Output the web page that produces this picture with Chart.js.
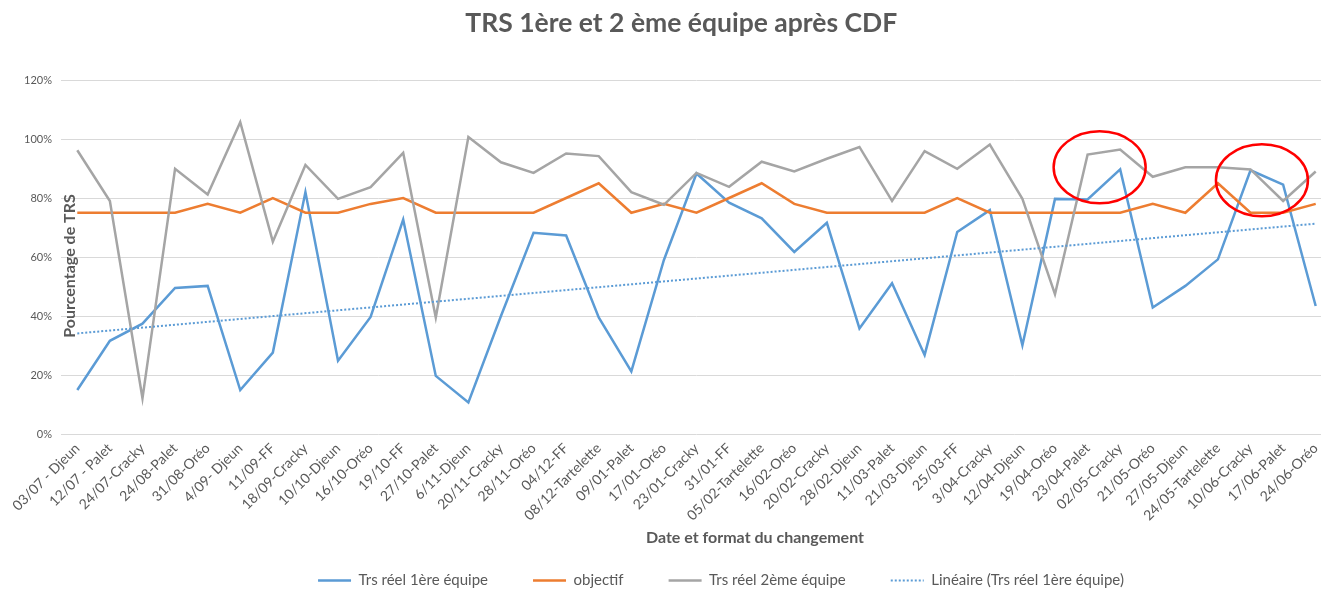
<!DOCTYPE html>
<html lang="fr">
<head>
<meta charset="utf-8">
<title>TRS 1ère et 2 ème équipe après CDF</title>
<script src="https://cdn.jsdelivr.net/npm/chart.js@4.4.1/dist/chart.umd.min.js"></script>
<style>
  html, body { margin: 0; padding: 0; background: #fff; }
  #cadre { position: relative; width: 1321px; height: 592px; overflow: hidden; }
  #graph { position: absolute; left: -20px; top: 0; }
</style>
</head>
<body>
<div id="cadre">
  <canvas id="graph" width="1482" height="598"></canvas>
</div>
<script>
// Date et format du changement
const changements = ['03/07 - Djeun', '12/07 - Palet', '24/07-Cracky', '24/08-Palet', '31/08-Oréo',
  '4/09- Djeun', '11/09-FF', '18/09-Cracky', '10/10-Djeun', '16/10-Oréo', '19/10-FF', '27/10-Palet',
  '6/11-Djeun', '20/11-Cracky', '28/11-Oréo', '04/12-FF', '08/12-Tartelette', '09/01-Palet',
  '17/01-Oréo', '23/01-Cracky', '31/01-FF', '05/02-Tartelette', '16/02-Oréo', '20/02-Cracky',
  '28/02-Djeun', '11/03-Palet', '21/03-Djeun', '25/03-FF', '3/04-Cracky', '12/04-Djeun',
  '19/04-Oréo', '23/04-Palet', '02/05-Cracky', '21/05-Oréo', '27/05-Djeun', '24/05-Tartelette',
  '10/06-Cracky', '17/06-Palet', '24/06-Oréo'];

// valeurs en %
const trsEquipe1 = [14.9, 31.6, 37.4, 49.5, 50.2, 14.9, 27.6, 82, 24.8, 39.7, 72.7, 19.7,
  10.7, 40, 68.2, 67.3, 39.5, 21.2, 59, 88.3, 78.4, 73.1, 61.7, 71.6, 35.8,
  51.1, 26.8, 68.5, 75.9, 30.1, 79.7, 79.5, 89.7, 42.9, 50.2, 59.2, 89.4, 84.5, 43.4];
const objectif = [75, 75, 75, 75, 78, 75, 80, 75, 75, 78, 80, 75,
  75, 75, 75, 80, 85, 75, 78, 75, 80, 85, 78, 75, 75,
  75, 75, 80, 75, 75, 75, 75, 75, 78, 75, 85, 75, 75, 78];
const trsEquipe2 = [96.2, 79, 12.1, 89.9, 81.2, 105.7, 65.2, 91.2, 79.7, 83.7, 95.3, 39.5,
  100.7, 92.1, 88.5, 95.1, 94.2, 82, 77.7, 88.5, 83.8, 92.3, 89, 93.3, 97.3,
  79, 95.9, 89.9, 98.1, 79.7, 47.4, 94.7, 96.4, 87.2, 90.4, 90.4, 89.7, 79, 89];

// courbe de tendance (début et fin)
const tendanceDebut = 34.1;
const tendanceFin = 71.3;

const yTicks = [0, 20, 40, 60, 80, 100, 120];

// cercles rouges ajoutés sur le graphique (centre : index de catégorie, valeur en %)
const cerclesIndex = [31.37, 36.35];
const cerclesValeur = [90.4, 86.0];

const tendance = changements.map((_, i) =>
  i === 0 ? tendanceDebut : (i === changements.length - 1 ? tendanceFin : null));

const gris = '#595959';

// les deux ellipses rouges
const cercles = {
  id: 'cercles',
  afterDatasetsDraw(chart) {
    const {ctx, scales} = chart;
    ctx.save();
    ctx.strokeStyle = '#FF0000';
    ctx.lineWidth = 2.5;
    cerclesIndex.forEach((idx, i) => {
      ctx.beginPath();
      ctx.ellipse(scales.x.getPixelForValue(idx), scales.y.getPixelForValue(cerclesValeur[i]),
        46, 36, 0, 0, Math.PI * 2);
      ctx.stroke();
    });
    ctx.restore();
  }
};

// titres dessinés à la main (position comme dans Excel)
const textes = {
  id: 'textes',
  afterDraw(chart) {
    const {ctx, chartArea} = chart;
    const w = chartArea.right - chartArea.left;
    ctx.save();
    ctx.fillStyle = gris;
    ctx.textAlign = 'center';
    ctx.textBaseline = 'middle';

    ctx.font = 'bold 26.5px Lato';
    ctx.fillText('TRS 1ère et 2 ème équipe après CDF', chartArea.left + w * 0.488, 23);

    ctx.font = 'bold 16px Lato';
    ctx.fillText('Date et format du changement', chartArea.left + w * 0.546, chartArea.bottom + 104);

    ctx.translate(chartArea.left + 9, (chartArea.top + chartArea.bottom) / 2 + 9);
    ctx.rotate(-Math.PI / 2);
    ctx.fillText('Pourcentage de TRS', 0, 0);
    ctx.restore();
  }
};

new Chart(document.getElementById('graph'), {
  type: 'line',
  data: {
    labels: changements,
    datasets: [
      {
        label: 'Trs réel 1ère équipe',
        data: trsEquipe1,
        borderColor: '#5B9BD5',
        borderWidth: 2.5,
        pointRadius: 0,
        order: 3
      },
      {
        label: 'objectif',
        data: objectif,
        borderColor: '#ED7D31',
        borderWidth: 2.5,
        pointRadius: 0,
        order: 2
      },
      {
        label: 'Trs réel 2ème équipe',
        data: trsEquipe2,
        borderColor: '#A5A5A5',
        borderWidth: 2.5,
        pointRadius: 0,
        order: 1
      },
      {
        label: 'Linéaire (Trs réel 1ère équipe)',
        data: tendance,
        borderColor: '#5B9BD5',
        borderWidth: 2,
        borderDash: [2, 2],
        pointRadius: 0,
        spanGaps: true,
        order: 0
      }
    ]
  },
  options: {
    responsive: false,
    animation: false,
    layout: { padding: { top: 80, left: 0, right: 0, bottom: 0 } },
    plugins: {
      title: { display: false },
      tooltip: { enabled: false },
      legend: {
        position: 'bottom',
        labels: {
          boxWidth: 33, // 33 : le pointillé reste visible sur le rectangle plat
          boxHeight: 0,
          padding: 45,
          color: gris,
          font: { family: 'Lato', size: 15 },
          sort: (a, b) => a.datasetIndex - b.datasetIndex
        }
      }
    },
    scales: {
      x: {
        offset: true,
        grid: { display: false, drawTicks: false },
        border: { display: false },
        ticks: {
          autoSkip: false,
          minRotation: 45,
          maxRotation: 45,
          padding: 6,
          color: gris,
          font: { family: 'Lato', size: 14 }
        },
        afterFit: s => { s.height = 94; }
      },
      y: {
        min: 0,
        max: 120,
        afterBuildTicks: s => { s.ticks = yTicks.map(v => ({ value: v })); },
        ticks: {
          callback: v => v + '%',
          color: gris,
          padding: 9,
          font: { family: 'Lato', size: 11 }
        },
        grid: { color: '#D9D9D9', drawTicks: false },
        border: { display: false },
        afterFit: s => { s.width = 81; }
      },
      // axe vide à droite, juste pour laisser la place comme dans l'original
      yVide: {
        position: 'right',
        grid: { display: false, drawTicks: false },
        ticks: { display: false },
        border: { display: false },
        afterFit: s => { s.width = 130; }
      }
    }
  },
  plugins: [cercles, textes]
});
</script>
</body>
</html>
